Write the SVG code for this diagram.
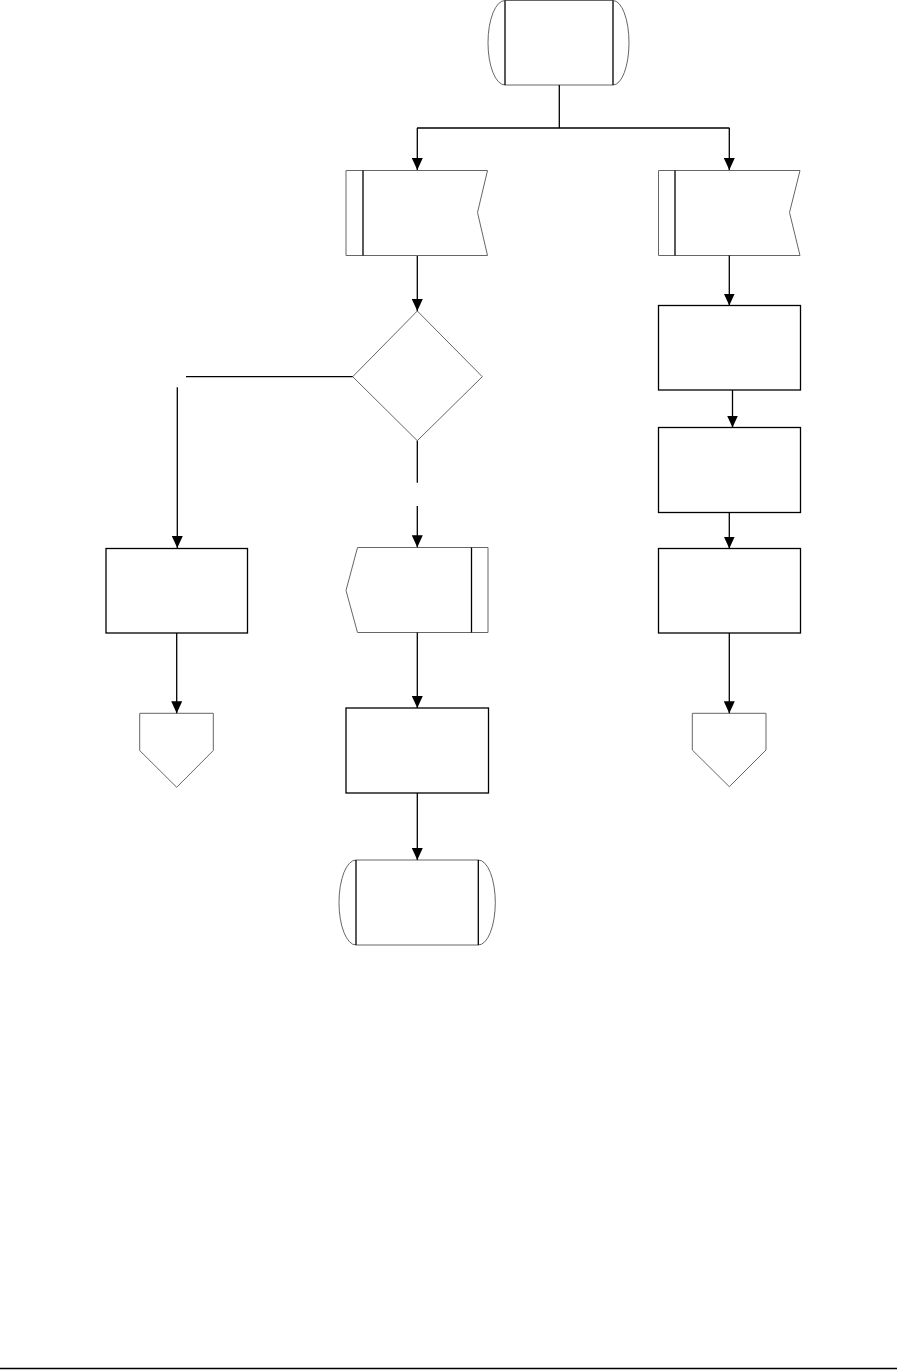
<svg xmlns="http://www.w3.org/2000/svg" width="903" height="1370" viewBox="0 0 903 1370">
<style>
  .edge { fill: none; stroke: #000; stroke-width: 1.3; }
  .box { fill: #fff; stroke: #000; stroke-width: 1.3; }
  .soft { fill: #fff; stroke: #666; stroke-width: 1; }
  .bar { fill: none; stroke: #000; stroke-width: 1.3; }
</style>
<defs>
  <marker id="arr" markerUnits="userSpaceOnUse" markerWidth="12" markerHeight="11" refX="12" refY="5.5" orient="auto" viewBox="0 0 12 11">
    <path d="M0,0 L12,5.5 L0,11 Z" fill="#000"/>
  </marker>
</defs>
<rect width="903" height="1370" fill="#fff"/>

<g id="start">
  <path class="soft" d="M505,0.5 L613,0.5 A16,42.25 0 0 1 613,85 L505,85 A17,42.25 0 0 1 505,0.5 Z"/>
  <line class="bar" x1="505" y1="0.5" x2="505" y2="85"/>
  <line class="bar" x1="613" y1="0.5" x2="613" y2="85"/>
</g>

<g id="card-left">
  <path class="soft" d="M346,170.5 L487.5,170.5 L477.5,212.5 L487.5,255.5 L346,255.5 Z"/>
  <line class="bar" x1="363" y1="170.5" x2="363" y2="255.5"/>
</g>

<g id="card-right">
  <path class="soft" d="M658.5,170.5 L800,170.5 L789.5,212.5 L800,255.5 L658.5,255.5 Z"/>
  <line class="bar" x1="675" y1="170.5" x2="675" y2="255.5"/>
</g>

<g id="decision">
  <path class="soft" d="M417.3,311 L482.3,376.7 L417.3,440.7 L352.7,376.7 Z"/>
</g>

<g id="proc-right-1"><rect class="box" x="658.5" y="305.5" width="142" height="84.5"/></g>
<g id="proc-right-2"><rect class="box" x="658.5" y="427.5" width="142" height="85"/></g>
<g id="proc-right-3"><rect class="box" x="658.5" y="548.5" width="142" height="84.5"/></g>

<g id="proc-left"><rect class="box" x="106" y="548.5" width="141.5" height="84.5"/></g>

<g id="display-mid">
  <path class="soft" d="M357.5,547.5 L488,547.5 L488,632.5 L357.5,632.5 L346,590.5 Z"/>
  <line class="bar" x1="471.5" y1="547.5" x2="471.5" y2="632.5"/>
</g>

<g id="proc-mid"><rect class="box" x="346" y="708" width="142.5" height="85"/></g>

<g id="offpage-left">
  <path class="soft" d="M139.7,713.3 L213.3,713.3 L213.3,750.5 L176.7,787.3 L139.7,750.5 Z"/>
</g>

<g id="offpage-right">
  <path class="soft" d="M692.3,713.3 L766,713.3 L766,750 L729.3,786.7 L692.3,750 Z"/>
</g>

<g id="end">
  <path class="soft" d="M356,860 L478.3,860 A17,42.5 0 0 1 478.3,945 L356,945 A17,42.5 0 0 1 356,860 Z"/>
  <line class="bar" x1="356" y1="860" x2="356" y2="945"/>
  <line class="bar" x1="478.3" y1="860" x2="478.3" y2="945"/>
</g>

<g id="connectors">
  <line class="edge" x1="559.3" y1="85" x2="559.3" y2="128"/>
  <line class="edge" x1="417" y1="128" x2="729.5" y2="128"/>
  <line class="edge" x1="417.3" y1="128" x2="417.3" y2="170" marker-end="url(#arr)"/>
  <line class="edge" x1="729.3" y1="128" x2="729.3" y2="170" marker-end="url(#arr)"/>
  <line class="edge" x1="417.3" y1="256" x2="417.3" y2="311" marker-end="url(#arr)"/>
  <line class="edge" x1="352.7" y1="376.7" x2="186" y2="376.7"/>
  <line class="edge" x1="177.3" y1="387.3" x2="177.3" y2="548" marker-end="url(#arr)"/>
  <line class="edge" x1="417.3" y1="440.7" x2="417.3" y2="482.7"/>
  <line class="edge" x1="417.3" y1="506" x2="417.3" y2="547.3" marker-end="url(#arr)"/>
  <line class="edge" x1="417.3" y1="632.5" x2="417.3" y2="708" marker-end="url(#arr)"/>
  <line class="edge" x1="417.3" y1="793" x2="417.3" y2="860" marker-end="url(#arr)"/>
  <line class="edge" x1="176.7" y1="633" x2="176.7" y2="713.3" marker-end="url(#arr)"/>
  <line class="edge" x1="729.3" y1="255.5" x2="729.3" y2="305.5" marker-end="url(#arr)"/>
  <line class="edge" x1="732.5" y1="390" x2="732.5" y2="427.5" marker-end="url(#arr)"/>
  <line class="edge" x1="729.3" y1="512.5" x2="729.3" y2="548.5" marker-end="url(#arr)"/>
  <line class="edge" x1="729.3" y1="633" x2="729.3" y2="713.3" marker-end="url(#arr)"/>
</g>

<line x1="0" y1="1368.5" x2="897" y2="1368.5" stroke="#000" stroke-width="1.3"/>
</svg>
